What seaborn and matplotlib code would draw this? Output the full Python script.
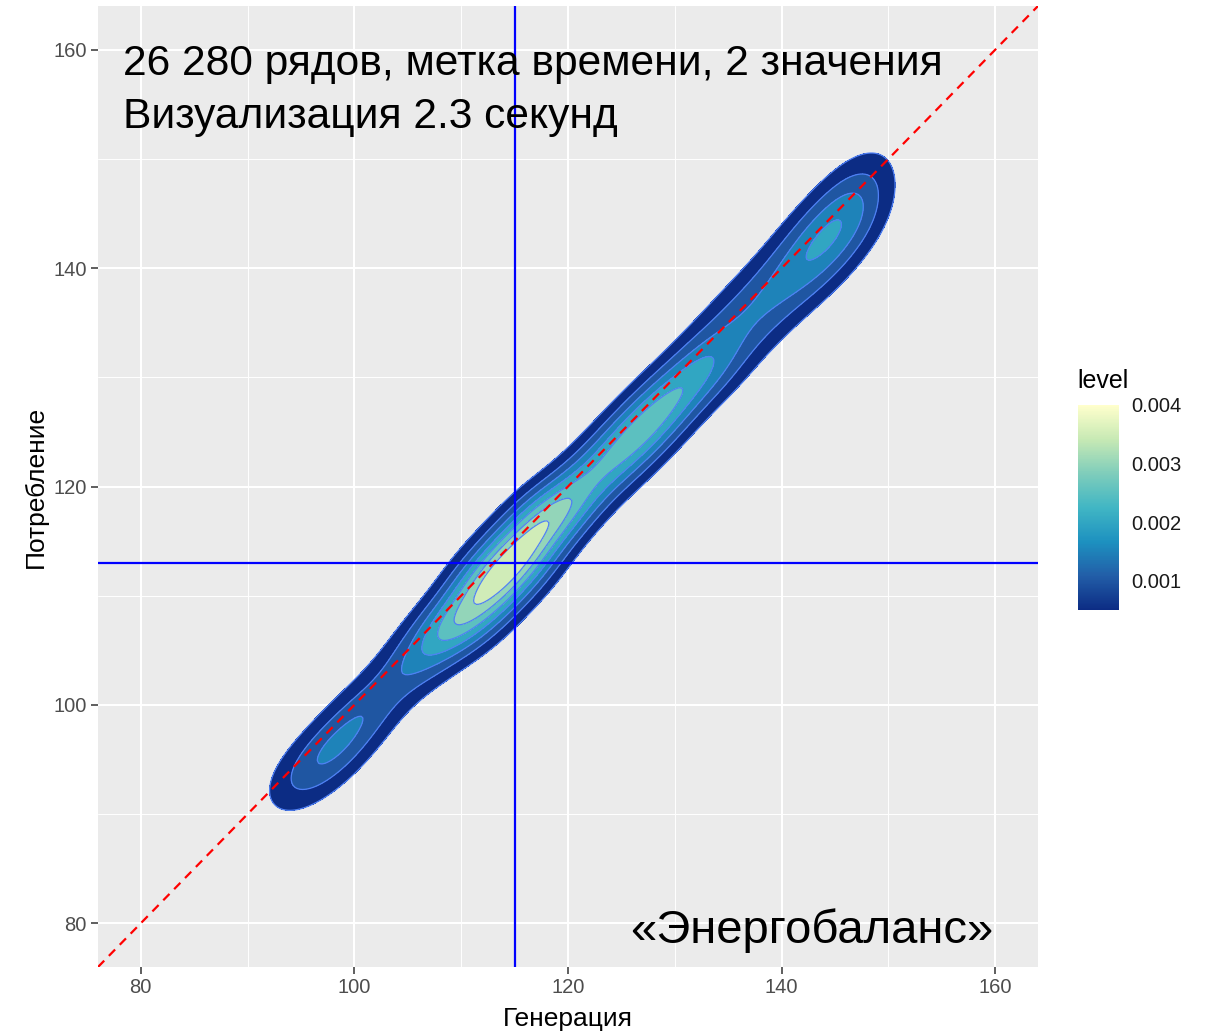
import numpy as np
import pandas as pd
import matplotlib
matplotlib.use("Agg")
import matplotlib.pyplot as plt
import seaborn as sns
from matplotlib.colors import LinearSegmentedColormap, Normalize
from matplotlib.cm import ScalarMappable
from matplotlib.ticker import MultipleLocator
from seaborn._statistics import KDE

# ---------------- data ----------------
# representative points of the (Генерация, Потребление) cloud
# and the share of observations around each point
gen = [93, 95, 97, 99, 101, 103, 105, 107, 109,
       111, 111, 113, 113, 115, 115, 117, 117,
       119, 121, 123, 125, 127, 129, 131,
       133, 133, 135, 135, 137, 137, 139, 139, 141, 141, 143, 143,
       145, 145, 147, 147, 149, 149]
cons = [91.5, 93.2, 95.0, 97.0, 99.2, 101.4, 103.4, 105.3, 107.2,
        108.0, 110.4, 110.0, 112.4, 112.1, 114.5, 114.2, 116.6,
        117.5, 119.5, 121.4, 123.3, 125.3, 127.3, 129.4,
        130.5, 132.5, 131.9, 135.1, 133.9, 137.1, 135.9, 139.1, 137.9, 141.1,
        139.9, 143.1, 142.0, 145.2, 144.3, 147.5, 146.8, 150.0]
share = [0.009, 0.019, 0.026, 0.028, 0.025, 0.019, 0.022, 0.033, 0.044,
         0.031, 0.031, 0.0357, 0.0357, 0.0362, 0.0362, 0.0342, 0.0342,
         0.053, 0.041, 0.037, 0.045, 0.047, 0.045, 0.038,
         0.0185, 0.0185, 0.015, 0.015, 0.014, 0.014, 0.0145, 0.0145,
         0.0165, 0.0165, 0.0205, 0.0205, 0.0215, 0.0215, 0.019, 0.019,
         0.0078, 0.0078]

# contour breaks (density levels) and legend ticks
level_breaks = [0.0005, 0.001, 0.0015, 0.002, 0.0025, 0.003, 0.0035, 0.004]
legend_ticks = [0.001, 0.002, 0.003, 0.004]
legend_range = (0.0005, 0.004)

# reference lines
gen_ref = 115        # vertical line
cons_ref = 113       # horizontal line
diag_slope, diag_intercept = 1, 0

x_ticks = [80, 100, 120, 140, 160]
y_ticks = [80, 100, 120, 140, 160]
x_lim = (76, 164)
y_lim = (76, 164)

title_lines = ["26 280 рядов, метка времени, 2 значения", "Визуализация 2.3 секунд"]
caption = "«Энергобаланс»"
x_label = "Генерация"
y_label = "Потребление"
legend_title = "level"

# ---------------- kernel set-up ----------------
K_U, K_V = 2.5, 2.0      # kernel sd along / across the diagonal
ANCHOR_DIST = 150.0      # far, off-plot bandwidth anchors (invisible)

w = np.array(share, float)
pts = np.column_stack([gen, cons]).astype(float)
p = w / w.sum()
m = p @ pts
e_u = np.array([1.0, 1.0]) / np.sqrt(2)
e_v = np.array([-1.0, 1.0]) / np.sqrt(2)
c = pts - m
su2 = p @ (c @ e_u) ** 2
sv2 = p @ (c @ e_v) ** 2
r2 = (K_V / K_U) ** 2
alpha = (r2 * su2 - sv2) / (ANCHOR_DIST ** 2 - sv2 + r2 * su2)
aw = alpha / (1 - alpha) * w.sum() / 2
anc = np.vstack([m + ANCHOR_DIST * e_v, m - ANCHOR_DIST * e_v])

all_x = np.concatenate([pts[:, 0], anc[:, 0]])
all_y = np.concatenate([pts[:, 1], anc[:, 1]])
all_w = np.concatenate([w, [aw, aw]])
C = np.cov(np.vstack([all_x, all_y]), aweights=all_w)
bw = K_U / np.sqrt(e_u @ C @ e_u)

df = pd.DataFrame({"gen": all_x, "cons": all_y, "w": all_w})
CLIP = (72, 168)
GRID = 420

est = KDE(bw_method=bw, gridsize=GRID, clip=CLIP)
dens, _ = est(df["gen"], df["cons"], weights=df["w"])
vals = np.sort(dens.ravel())[::-1]
nv = np.cumsum(vals) / vals.sum()
dmax = vals[0]


def to_prop(L):
    j = int(np.searchsorted(-vals, -L, side="right"))
    j = min(j, len(vals) - 1)
    return float(1 - nv[j])


used = [L for L in level_breaks if L < dmax]
props_fill = sorted([to_prop(L) for L in used] + [1.0])
props_line = sorted([to_prop(L) for L in used])

# ggplot-like YlGnBu distiller palette
ylgnbu7 = ["#ffffcc", "#c7e9b4", "#7fcdbb", "#41b6c4", "#1d91c0", "#225ea8", "#0c2c84"]
cmap = LinearSegmentedColormap.from_list("ylgnbu_r", ylgnbu7[::-1])
norm = Normalize(*legend_range)
band_colors = [cmap(norm(L)) for L in sorted(used)]

# ---------------- figure ----------------
sns.set_theme(style="darkgrid")
plt.rcParams["font.family"] = ["Liberation Sans", "DejaVu Sans"]

W, H = 1205, 1034
fig = plt.figure(figsize=(W / 100, H / 100), dpi=100)
fig.patch.set_facecolor("white")
ax = fig.add_axes([98 / W, 1 - 967 / H, 940 / W, 961 / H])
ax.set_facecolor("#EBEBEB")
for s in ax.spines.values():
    s.set_visible(False)
ax.set_axisbelow(True)

sns.kdeplot(data=df, x="gen", y="cons", weights="w", fill=True,
            levels=props_fill, color=band_colors[0], colors=band_colors,
            bw_method=bw, gridsize=GRID, clip=CLIP, ax=ax, zorder=2)
sns.kdeplot(data=df, x="gen", y="cons", weights="w", fill=False,
            levels=props_line, color="#4f80f5", colors="#4f80f5",
            linewidths=0.9, bw_method=bw, gridsize=GRID, clip=CLIP,
            ax=ax, zorder=3)

ax.set_xlim(*x_lim)
ax.set_ylim(*y_lim)
ax.set_xticks(x_ticks)
ax.set_yticks(y_ticks)
ax.xaxis.set_minor_locator(MultipleLocator(10))
ax.yaxis.set_minor_locator(MultipleLocator(10))
ax.grid(which="major", color="white", linewidth=1.5)
ax.grid(which="minor", color="white", linewidth=0.7)
ax.tick_params(which="major", length=5, width=1.1, color="#333333",
               labelsize=14.5, labelcolor="#4D4D4D", pad=3,
               bottom=True, left=True)
ax.tick_params(which="minor", length=0)

ax.axline((0, diag_intercept), slope=diag_slope, color="#ff0000",
          linewidth=1.6, dashes=(4, 3), zorder=4)
ax.axvline(gen_ref, color="#0000ff", linewidth=1.6, zorder=5)
ax.axhline(cons_ref, color="#0000ff", linewidth=1.6, zorder=5)

ax.set_xlabel(x_label, fontsize=19, color="black", labelpad=7)
ax.set_ylabel(y_label, fontsize=19, color="black", labelpad=4)

fig.text(123 / W, 1 - 75 / H, title_lines[0], fontsize=30.6,
         color="black", va="baseline", ha="left")
fig.text(123 / W, 1 - 128 / H, title_lines[1], fontsize=30.6,
         color="black", va="baseline", ha="left")
fig.text(993 / W, 1 - 943 / H, caption, fontsize=34, color="black",
         va="baseline", ha="right")

# legend (colour bar)
cax = fig.add_axes([1078 / W, 1 - 610 / H, 41 / W, 205 / H])
cb = fig.colorbar(ScalarMappable(norm=norm, cmap=cmap), cax=cax)
cb.outline.set_visible(False)
cb.set_ticks(legend_ticks)
cb.set_ticklabels([f"{t:.3f}" for t in legend_ticks])
cax.tick_params(axis="y", direction="in", left=True, right=True,
                color="white", length=7, width=1.0, labelsize=14.5,
                labelcolor="#1A1A1A", pad=9)
cax.grid(False)
fig.text(1077 / W, 1 - 388 / H, legend_title, fontsize=18, color="black",
         va="baseline", ha="left")

fig.savefig("out.png", dpi=100)
